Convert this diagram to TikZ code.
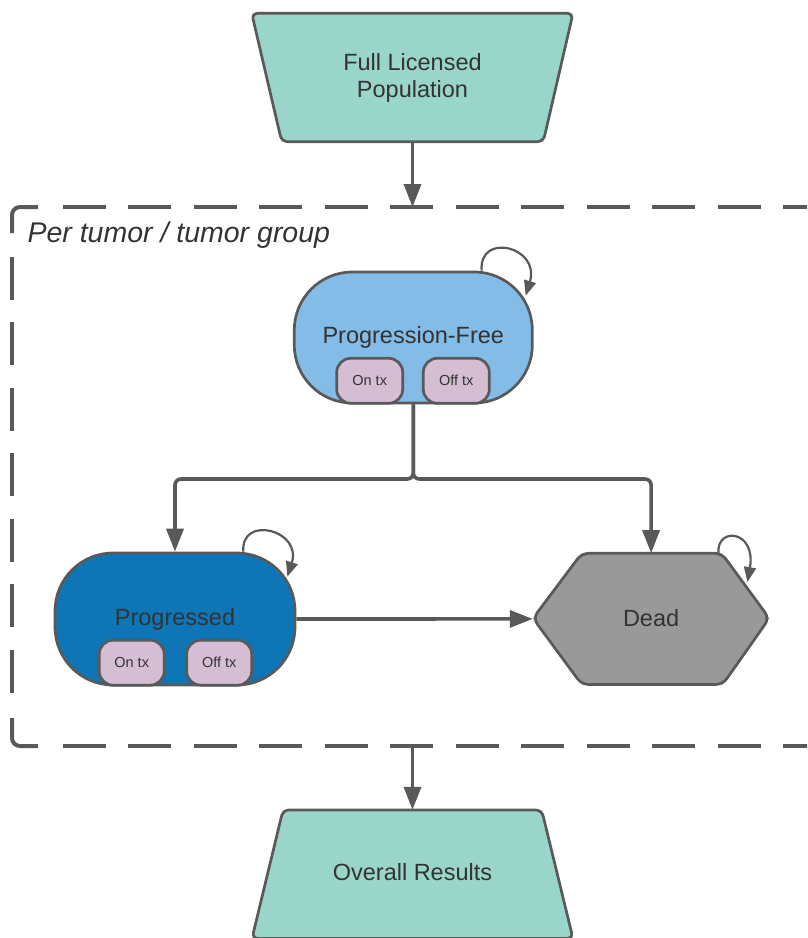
\documentclass[tikz,border=0pt]{standalone}
\usepackage{fontspec}
\setmainfont{Liberation Sans}
\usetikzlibrary{arrows.meta,calc}

\definecolor{edge}{HTML}{595959}
\definecolor{ink}{HTML}{333333}
\definecolor{tealfill}{HTML}{99D5C9}
\definecolor{pfblue}{HTML}{83BCE6}
\definecolor{progblue}{HTML}{0E75B6}
\definecolor{lilac}{HTML}{D5BED4}
\definecolor{deadgrey}{HTML}{999999}

\tikzset{
  txt/.style={text=ink, font=\fontsize{23.5}{28}\selectfont, align=center},
  outline/.style={draw=edge, line width=2.7pt, line join=round},
  stateshape/.style={outline, txt, rounded corners=58pt, inner sep=0pt},
  hidden/.style={txt, inner sep=0pt},
  txbox/.style={outline, fill=lilac, rounded corners=14pt, minimum width=66pt,
    minimum height=45pt, inner sep=0pt, text=ink, font=\fontsize{14.5}{16}\selectfont},
  flowarrow/.style={draw=edge, line width=3.6pt, -{Triangle[length=23pt,width=17pt]}},
  branch/.style={flowarrow, rounded corners=6pt},
  selfloop/.style={draw=edge, line width=2.2pt, -{Triangle[length=15pt,width=12pt]}},
  groupline/.style={draw=edge, line width=4pt},
}

\begin{document}
\begin{tikzpicture}[x=1pt, y=-1pt]
  \useasboundingbox (0,0) rectangle (807,938);
  \clip (0,0) rectangle (807,938);

  % dashed group frame: solid corner pieces, dashed straight runs
  \draw[groupline, rounded corners=8pt] (12,233) -- (12,207) -- (38,207);
  \draw[groupline, rounded corners=8pt] (12,718) -- (12,746) -- (38,746);
  \draw[groupline, dash pattern=on 43pt off 22.5pt] (62.7,207) -- (840,207);
  \draw[groupline, dash pattern=on 43pt off 22.5pt] (62.7,746) -- (840,746);
  \draw[groupline, dash pattern=on 43pt off 22.5pt] (12,256.7) -- (12,696);
  \node[anchor=west, text=ink, font=\fontsize{28.5}{30}\selectfont\itshape] (grp) at (24,235) {Per tumor / tumor group};
  \coordinate (frametop) at (412.5,207);
  \coordinate (framebot) at (412.5,746);

  % input population
  \fill[tealfill] (251.7,13.3) -- (573,13.3) -- (543.3,141.7) -- (281.7,141.7) -- cycle;
  \draw[outline, rounded corners=6pt] (251.7,13.3) -- (573,13.3) -- (543.3,141.7) -- (281.7,141.7) -- cycle;
  \node[hidden, minimum width=322pt, minimum height=128.4pt] (pop) at (412.5,77.5)
    {\raisebox{2pt}{\parbox{300pt}{\centering Full Licensed\\[-1pt]Population}}};

  % overall results
  \fill[tealfill] (283,810) -- (541.7,810) -- (573,938.4) -- (252,938.4) -- cycle;
  \draw[outline, rounded corners=6pt] (283,810) -- (541.7,810) -- (573,938.4) -- (252,938.4) -- cycle;
  \node[hidden, minimum width=322pt, minimum height=128.4pt] (res) at (412.5,874.2)
    {\raisebox{5pt}{Overall Results}};

  % progression-free state
  \node[stateshape, fill=pfblue, minimum width=238pt, minimum height=131pt] (pf) at (413.3,337.5)
    {\raisebox{4pt}{Progression-Free}};
  \node[txbox] (pfon) at (369.7,380.8) {On tx};
  \node[txbox] (pfoff) at (456.3,380.8) {Off tx};

  % progressed state
  \node[stateshape, fill=progblue, minimum width=240pt, minimum height=132pt] (prog) at (175,619)
    {\raisebox{4pt}{Progressed}};
  \node[txbox, minimum width=65pt] (progon) at (131.7,662.7) {On tx};
  \node[txbox, minimum width=65pt] (progoff) at (219.2,662.7) {Off tx};

  % dead state (hexagon)
  \fill[deadgrey] (533,618.3) -- (581.7,553.3) -- (721.7,553.3) -- (769.3,618.3) -- (722.7,684.5) -- (581.7,684.5) -- cycle;
  \draw[outline, rounded corners=7pt] (533,618.3) -- (581.7,553.3) -- (721.7,553.3) -- (769.3,618.3) -- (722.7,684.5) -- (581.7,684.5) -- cycle;
  \node[hidden, minimum width=236.3pt, minimum height=131.2pt] (dead) at (651.1,618.9)
    {\raisebox{2pt}{Dead}};

  % flows
  \draw[flowarrow] (pop.south) -- (frametop);
  \draw[flowarrow] (framebot) -- (res.north);
  \coordinate (split) at (413.3,479);
  \draw[branch] (pf.south) -- (split) -| (prog.north);
  \draw[branch] (pf.south) -- (split) -| (dead.north);
  \draw[flowarrow] (prog.east) -- (dead.west);

  % staying in the same state
  \draw[selfloop] ($(pf.north east)+(-52,0)$) .. controls +(-3,-39) and +(15,-49) .. ($(pf.north east)+(-8,25)$);
  \draw[selfloop] ($(prog.north east)+(-53,0)$) .. controls +(-3,-37) and +(15,-47) .. ($(prog.north east)+(-9,25)$);
  \draw[selfloop] ($(dead.north east)+(-51,0)$) .. controls +(-2,-27) and +(9,-52) .. ($(dead.north east)+(-22,29)$);
\end{tikzpicture}
\end{document}
